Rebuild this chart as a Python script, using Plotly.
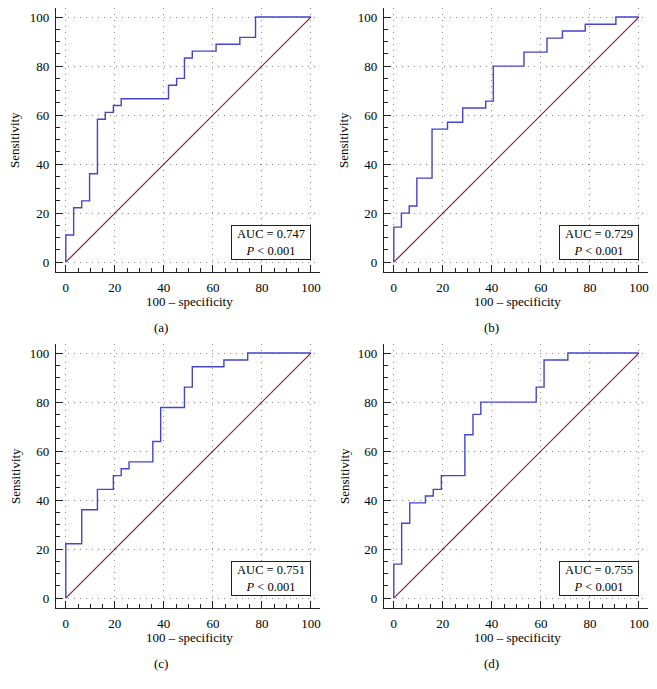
import plotly.graph_objects as go

# ROC curves: 100 - specificity (x) and sensitivity (y) at each step
fpr_a = [0, 3.2, 6.5, 9.7, 12.9, 16.1, 19.4, 22.6, 41.9, 45.2, 48.4, 51.6, 61.3, 71.0, 77.4]
sens_a = [11.1, 22.2, 25.0, 36.1, 58.3, 61.1, 63.9, 66.7, 72.2, 75.0, 83.3, 86.1, 88.9, 91.7, 100]

fpr_b = [0, 3.1, 6.3, 9.4, 15.6, 21.9, 28.1, 37.5, 40.6, 53.1, 62.5, 68.8, 78.1, 90.6]
sens_b = [14.3, 20.0, 22.9, 34.3, 54.3, 57.1, 62.9, 65.7, 80.0, 85.7, 91.4, 94.3, 97.1, 100]

fpr_c = [0, 6.5, 12.9, 19.4, 22.6, 25.8, 35.5, 38.7, 48.4, 51.6, 64.5, 74.2]
sens_c = [22.2, 36.1, 44.4, 50.0, 52.8, 55.6, 63.9, 77.8, 86.1, 94.4, 97.2, 100]

fpr_d = [0, 3.2, 6.5, 12.9, 16.1, 19.4, 29.0, 32.3, 35.5, 58.1, 61.3, 71.0]
sens_d = [13.9, 30.6, 38.9, 41.7, 44.4, 50.0, 66.7, 75.0, 80.0, 86.1, 97.2, 100]

auc_values = ["0.747", "0.729", "0.751", "0.755"]
panel_labels = ["(a)", "(b)", "(c)", "(d)"]
tick_values = [0, 20, 40, 60, 80, 100]

FONT = "Liberation Serif, Times New Roman, serif"
# the page body has an 8px margin, so the figure is shrunk and everything is shifted by it
OFF = 8
W, H = 657 - 2 * OFF, 689 - 2 * OFF


def px_x(p):
    return (p - OFF) / W


def px_y(p):
    return 1 - (p - OFF) / H


# plot areas in page pixels (left, right, top, bottom)
boxes = [(56, 320, 8, 272), (384, 648, 8, 272), (56, 320, 344, 608), (384, 648, 344, 608)]
curves = [(fpr_a, sens_a), (fpr_b, sens_b), (fpr_c, sens_c), (fpr_d, sens_d)]
ytitle_x = [15, 344, 15, 344]
label_x = [161, 491, 161, 491]

fig = go.Figure()
layout = {}
txt = dict(family=FONT, size=13, color="black")

for i, ((fpr, sens), (l, r, t, b)) in enumerate(zip(curves, boxes)):
    n = "" if i == 0 else str(i + 1)
    xa, ya = "x" + n, "y" + n

    # reference diagonal
    fig.add_trace(go.Scatter(x=[0, 100], y=[0, 100], mode="lines",
                             line=dict(color="#8c1c2c", width=1.2),
                             xaxis=xa, yaxis=ya, showlegend=False, hoverinfo="skip"))
    # ROC step curve
    fig.add_trace(go.Scatter(x=[0] + fpr + [100], y=[0] + sens + [100], mode="lines",
                             line=dict(color="#4444cc", width=1.4, shape="hv"),
                             xaxis=xa, yaxis=ya, showlegend=False))

    common = dict(range=[-4, 103.7], tickvals=tick_values, showline=True, linecolor="#222",
                  linewidth=1.2, ticks="inside", ticklen=7, tickcolor="#222", tickwidth=1,
                  minor=dict(dtick=5, tick0=0, ticks="inside", ticklen=4, tickcolor="#222",
                             showgrid=False),
                  showgrid=True, gridcolor="#8a8a8a", griddash="1px,5px", gridwidth=1,
                  zeroline=False, tickfont=txt, ticklabelstandoff=3, fixedrange=True)
    layout["xaxis" + n] = dict(common, domain=[px_x(l), px_x(r)], anchor=ya)
    layout["yaxis" + n] = dict(common, domain=[px_y(b), px_y(t)], anchor=xa)

    # axis titles
    fig.add_annotation(x=px_x((l + r) / 2 + 1), y=px_y(b + 29), xref="paper", yref="paper",
                       xanchor="center", yanchor="middle", text="100 – specificity",
                       showarrow=False, font=txt)
    fig.add_annotation(x=px_x(ytitle_x[i]), y=px_y((t + b) / 2), xref="paper", yref="paper",
                       xanchor="center", yanchor="middle", text="Sensitivity", textangle=-90,
                       showarrow=False, font=txt)

    # AUC box
    fig.add_annotation(x=100, y=1, xref=xa, yref=ya, xanchor="right", yanchor="bottom",
                       text="AUC = " + auc_values[i] + "<br><i>P</i> < 0.001",
                       showarrow=False, align="center", bordercolor="#222", borderwidth=1,
                       borderpad=2, bgcolor="white", width=74, height=29,
                       font=dict(family=FONT, size=12.5, color="black"))
    # panel label
    fig.add_annotation(x=px_x(label_x[i]), y=px_y(b + 55), xref="paper", yref="paper",
                       xanchor="center", yanchor="middle", text=panel_labels[i],
                       showarrow=False, font=txt)

fig.update_layout(width=W, height=H, margin=dict(l=0, r=0, t=0, b=0),
                  plot_bgcolor="white", paper_bgcolor="white", **layout)

fig.write_html("out.html")
